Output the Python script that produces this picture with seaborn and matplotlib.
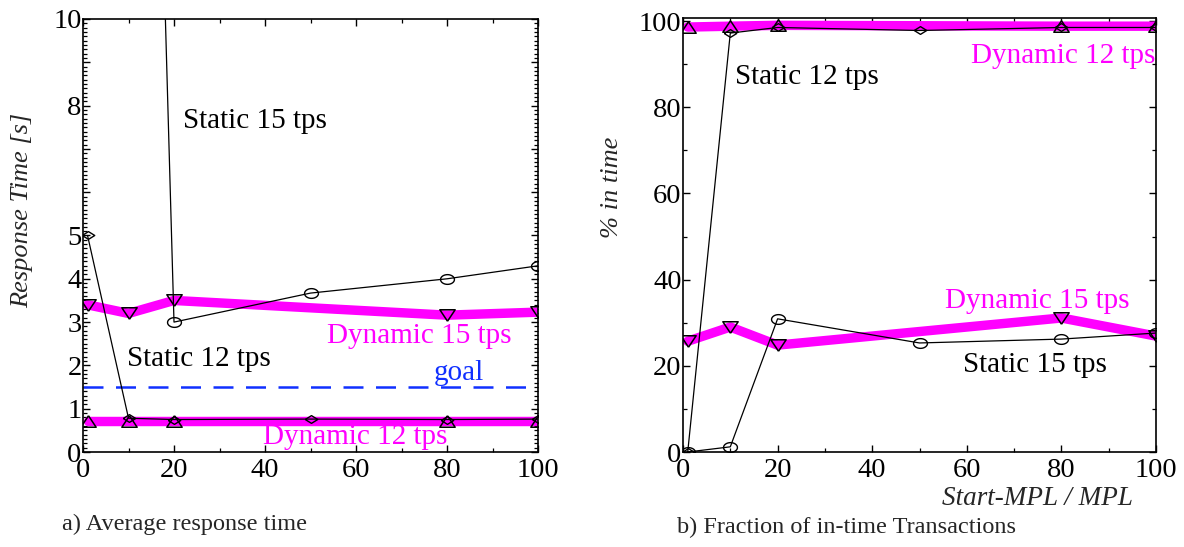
import numpy as np
import pandas as pd
import matplotlib
matplotlib.use("Agg")
import matplotlib.pyplot as plt
import seaborn as sns
from matplotlib.path import Path
from matplotlib.markers import MarkerStyle
from matplotlib.ticker import MultipleLocator, FixedLocator, FixedFormatter

# ---------------- data ----------------
mpl_x = [1, 10, 20, 50, 80, 100]
dyn_x = [1, 10, 20, 80, 100]

# a) average response time [s]
rt_static15 = [60.0, 40.0, 3.0, 3.67, 4.0, 4.3]
rt_static12 = [5.0, 0.78, 0.75, 0.76, 0.75, 0.76]
rt_dyn12 = [0.72, 0.72, 0.72, 0.72, 0.72]
rt_dyn15 = [3.4, 3.2, 3.5, 3.16, 3.23]
goal_value = 1.5
rt_tick_values = [0, 1, 2, 3, 4, 5, 6, 7, 8, 9, 10]
rt_tick_labels = ["0", "1", "2", "3", "4", "5", "", "", "8", "", "10"]

# b) fraction of in-time transactions [%]
it_static12 = [0.0, 97.2, 98.5, 97.8, 98.5, 98.5]
it_static15 = [0.0, 1.2, 30.9, 25.3, 26.2, 27.6]
it_dyn12 = [98.6, 98.8, 99.0, 98.8, 98.8]
it_dyn15 = [25.7, 29.0, 24.8, 31.1, 26.9]

# ---------------- style ----------------
sns.set_style("ticks")
plt.rcParams["font.family"] = ["Liberation Serif", "DejaVu Serif"]

MAGENTA = "#ff00ff"
BLUE = "#1030ff"

t = np.linspace(0, 2 * np.pi, 41)
ellipse = MarkerStyle(Path(np.column_stack([np.cos(t), 0.7 * np.sin(t)])))
diamond = MarkerStyle(Path([(-1, 0), (0, 0.62), (1, 0), (0, -0.62), (-1, 0)]))
tri_up = MarkerStyle(Path([(0, 0.75), (-1, -0.75), (1, -0.75), (0, 0.75)]))
tri_dn = MarkerStyle(Path([(0, -0.75), (-1, 0.75), (1, 0.75), (0, -0.75)]))

fig = plt.figure(figsize=(11.84, 5.47), dpi=100)
axL = fig.add_axes([83 / 1184, 1 - 452 / 547, (538 - 83) / 1184, (452 - 19) / 547])
axR = fig.add_axes([683 / 1184, 1 - 452 / 547, (1156 - 683) / 1184, (452 - 18) / 547])


def thick(ax, x, y, marker):
    sns.lineplot(x=x, y=y, ax=ax, color=MAGENTA, linewidth=6.8, errorbar=None,
                 marker=marker, markersize=11, markerfacecolor="none",
                 markeredgecolor="k", markeredgewidth=1.1, zorder=2)


def thin(ax, x, y, marker, ms):
    sns.lineplot(x=x, y=y, ax=ax, color="k", linewidth=0.9, errorbar=None,
                 marker=marker, markersize=ms, markerfacecolor="none",
                 markeredgecolor="k", markeredgewidth=1.0, zorder=3)


# ---- left panel ----
thick(axL, dyn_x, rt_dyn12, tri_up)
thick(axL, dyn_x, rt_dyn15, tri_dn)
thin(axL, mpl_x, rt_static12, diamond, 9)
thin(axL, mpl_x, rt_static15, ellipse, 10)
axL.axhline(goal_value, color=BLUE, linewidth=1.8, dashes=(8, 5), zorder=1)

axL.set_xlim(0, 100)
axL.set_ylim(0, 10)
axL.yaxis.set_major_locator(FixedLocator(rt_tick_values))
axL.yaxis.set_major_formatter(FixedFormatter(rt_tick_labels))
axL.yaxis.set_minor_locator(MultipleLocator(0.1))
axL.xaxis.set_major_locator(MultipleLocator(20))
axL.xaxis.set_minor_locator(MultipleLocator(10))

fs_ann = 21
axL.text(22, 7.48, "Static 15 tps", fontsize=fs_ann, color="k", va="baseline")
axL.text(9.7, 1.99, "Static 12 tps", fontsize=fs_ann, color="k", va="baseline")
axL.text(53.6, 2.52, "Dynamic 15 tps", fontsize=fs_ann, color=MAGENTA, va="baseline")
axL.text(77, 1.66, "goal", fontsize=fs_ann, color=BLUE, va="baseline")
axL.text(39.6, 0.18, "Dynamic 12 tps", fontsize=fs_ann, color=MAGENTA, va="baseline")

# ---- right panel ----
thick(axR, dyn_x, it_dyn12, tri_up)
thick(axR, dyn_x, it_dyn15, tri_dn)
thin(axR, mpl_x, it_static12, diamond, 9)
thin(axR, mpl_x, it_static15, ellipse, 10)

axR.set_xlim(0, 100)
axR.set_ylim(0, 100.7)
axR.yaxis.set_major_locator(MultipleLocator(20))
axR.yaxis.set_minor_locator(MultipleLocator(10))
axR.xaxis.set_major_locator(MultipleLocator(20))
axR.xaxis.set_minor_locator(MultipleLocator(10))

axR.text(11, 85.4, "Static 12 tps", fontsize=fs_ann, color="k", va="baseline")
axR.text(99.8, 90.3, "Dynamic 12 tps", fontsize=fs_ann, color=MAGENTA, va="baseline", ha="right")
axR.text(55.4, 33.4, "Dynamic 15 tps", fontsize=fs_ann, color=MAGENTA, va="baseline")
axR.text(59.2, 18.6, "Static 15 tps", fontsize=fs_ann, color="k", va="baseline")

for ax in (axL, axR):
    ax.set_xlabel("")
    ax.set_ylabel("")
    for s in ax.spines.values():
        s.set_visible(True)
        s.set_linewidth(1.2)
        s.set_color("k")
    ax.tick_params(which="both", direction="in", top=True, right=True,
                   labelsize=20.5, colors="k")
    ax.tick_params(which="major", length=5, width=1.0)
    ax.tick_params(which="minor", length=3, width=0.9)
    ax.tick_params(axis="x", which="major", pad=4)
    ax.tick_params(axis="y", which="major", pad=1)

# ---- figure texts ----
fig.text(22 / 1184, 1 - 210 / 547, "Response Time [s]", rotation=90, fontsize=19,
         style="italic", ha="center", va="center")
fig.text(612 / 1184, 1 - 187 / 547, "% in time", rotation=90, fontsize=19,
         style="italic", ha="center", va="center")
fig.text(942 / 1184, 1 - 505 / 547, "Start-MPL / MPL", fontsize=19.5, style="italic",
         ha="left", va="baseline")
fig.text(62 / 1184, 1 - 530 / 547, "a) Average response time", fontsize=17.5,
         ha="left", va="baseline")
fig.text(677 / 1184, 1 - 533 / 547, "b) Fraction of in-time Transactions", fontsize=17.5,
         ha="left", va="baseline")

fig.savefig("out.png", dpi=100)
